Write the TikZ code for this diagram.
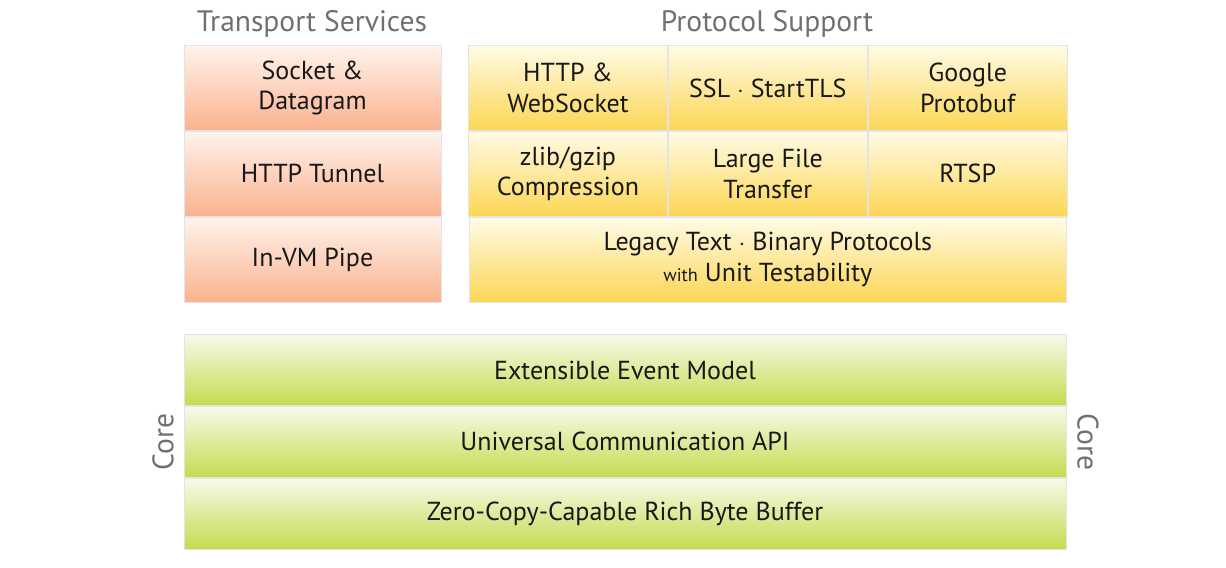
\documentclass[tikz,border=0pt]{standalone}
\usepackage{fontspec}
\setmainfont{PT Sans}
\usetikzlibrary{positioning}
\definecolor{orangeTop}{RGB}{255,243,236}
\definecolor{orangeBot}{RGB}{250,178,142}
\definecolor{yellowTop}{RGB}{255,251,230}
\definecolor{yellowBot}{RGB}{252,214,84}
\definecolor{greenTop}{RGB}{247,250,234}
\definecolor{greenBot}{RGB}{196,220,78}
\definecolor{labelGray}{RGB}{112,112,112}
\definecolor{edgeGray}{RGB}{228,228,228}
\definecolor{textDark}{RGB}{24,24,24}
\newcommand{\pxl}{0.025cm}
\newcommand{\bodyfont}{\fontsize{18.5}{22}\selectfont}

\begin{document}
\begin{tikzpicture}[x=\pxl, y=-\pxl,
    cell/.style={draw=edgeGray, line width=0.6pt, inner sep=0pt, align=center,
      text=textDark, font=\bodyfont},
    transport/.style={cell, top color=orangeTop, bottom color=orangeBot,
      minimum width=257*\pxl, minimum height=85*\pxl},
    protocol/.style={cell, top color=yellowTop, bottom color=yellowBot,
      minimum width=199*\pxl, minimum height=85*\pxl},
    core/.style={cell, top color=greenTop, bottom color=greenBot,
      minimum width=882*\pxl, minimum height=71*\pxl},
    heading/.style={text=labelGray, font=\fontsize{21}{24}\selectfont}]
  \useasboundingbox[fill=white] (0,0) rectangle (1226,567);

  % Transport Services
  \node[heading] (transTitle) at (312,24) {Transport Services};
  \node[transport] (socket) at (312.5,88) {Socket \&\\Datagram};
  \node[transport, below=0pt of socket] (tunnel) {HTTP Tunnel};
  \node[transport, below=0pt of tunnel] (pipe) {In-VM Pipe};

  % Protocol Support
  \node[heading] (protoTitle) at (767,24) {Protocol Support};
  \node[protocol] (http) at (568,88) {HTTP \&\\WebSocket};
  \node[protocol, right=0pt of http] (ssl) {SSL $\cdot$ StartTLS};
  \node[protocol, right=0pt of ssl] (protobuf) {Google\\Protobuf};
  \node[protocol, below=0pt of http] (zlib) {zlib/gzip\\Compression};
  \node[protocol, below=0pt of ssl] (largefile) {Large File\\Transfer};
  \node[protocol, below=0pt of protobuf] (rtsp) {RTSP};
  \node[protocol, minimum width=597*\pxl, below=0pt of largefile] (legacy)
    {Legacy Text $\cdot$ Binary Protocols\\{\fontsize{13}{15}\selectfont with} Unit Testability};

  % Core
  \node[core] (event) at (625,370) {Extensible Event Model};
  \node[core, below=0pt of event] (api) {Universal Communication API};
  \node[core, below=0pt of api] (buffer) {Zero-Copy-Capable Rich Byte Buffer};
  \node[heading, rotate=90] (coreLeft) at (163,442) {Core};
  \node[heading, rotate=-90] (coreRight) at (1088,442) {Core};
\end{tikzpicture}
\end{document}
